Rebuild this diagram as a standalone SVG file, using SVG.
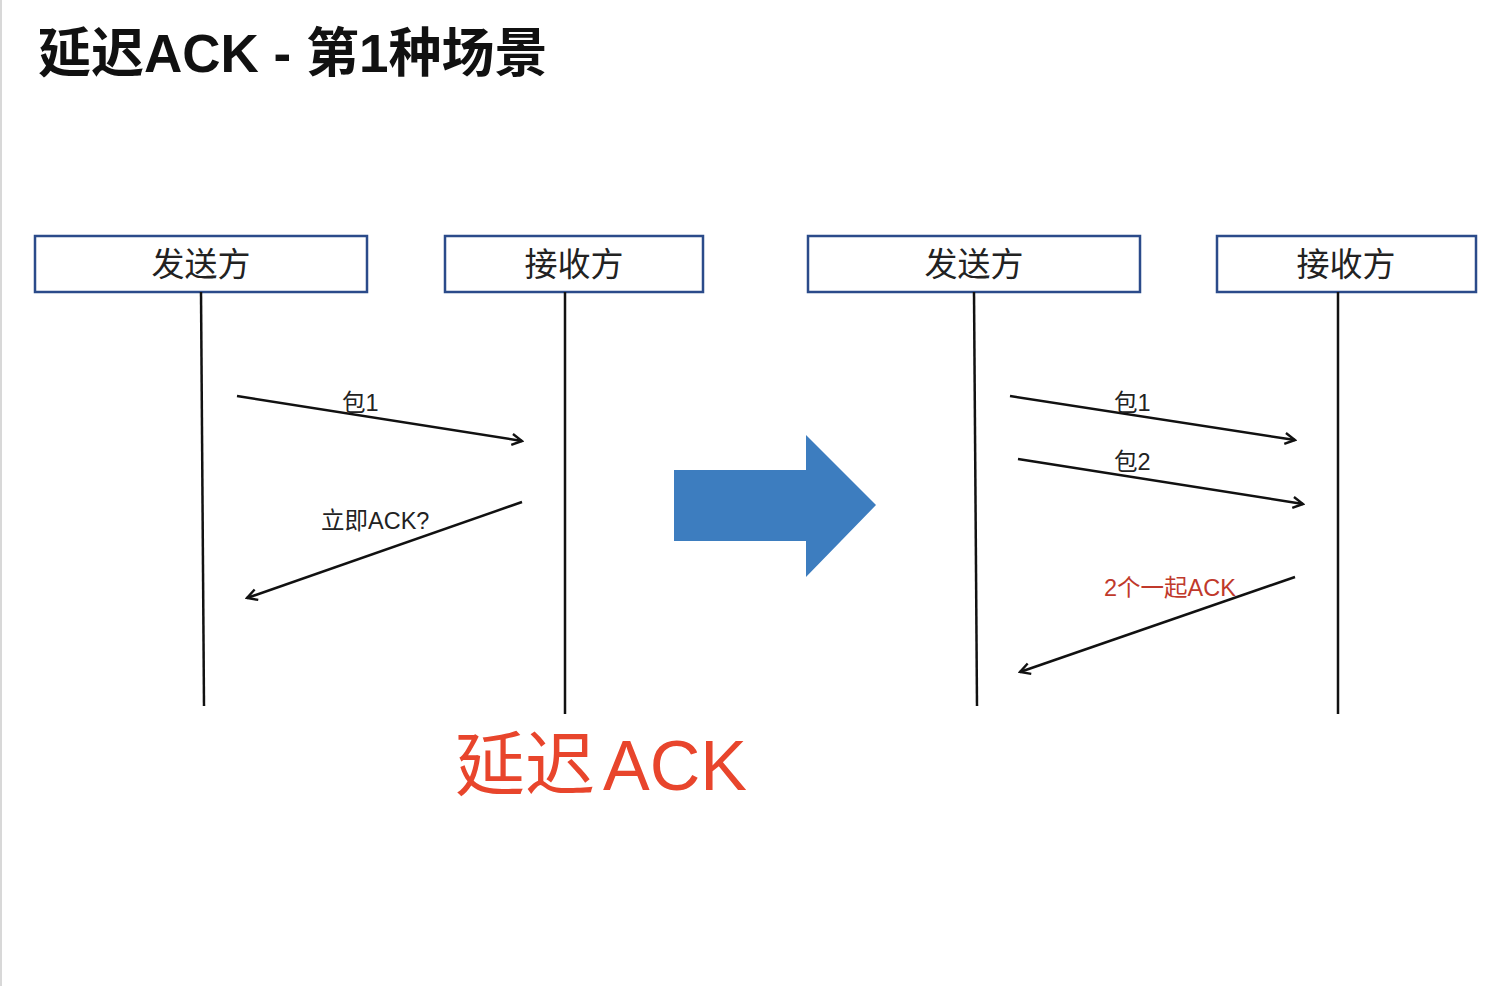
<svg xmlns="http://www.w3.org/2000/svg" width="1510" height="986" viewBox="0 0 1510 986">
<style>
.box{fill:#fff;stroke:#2b4b8a;stroke-width:2.5}
.boxt{font-family:"Noto Sans CJK SC","Liberation Sans",sans-serif;font-size:33px;fill:#222;text-anchor:middle}
.life{stroke:#111;stroke-width:2.5;fill:none}
.msg{stroke:#111;stroke-width:2.5;fill:none;marker-end:url(#arr)}
.lbl{font-family:"Liberation Sans","Noto Sans CJK SC",sans-serif;font-size:23.5px;fill:#222}
.red{fill:#c0392b}
</style>
<defs>
<marker id="arr" markerUnits="userSpaceOnUse" viewBox="0 0 14 14" refX="12" refY="7" markerWidth="14" markerHeight="14" orient="auto">
<path d="M2,1.5 L12,7 L2,12.5" fill="none" stroke="#111" stroke-width="2.4"/>
</marker>
</defs>
<rect width="1510" height="986" fill="#fff"/>
<line x1="1" y1="0" x2="1" y2="986" stroke="#d8d8d8" stroke-width="2"/>
<text x="38" y="72" font-family="'Liberation Sans','Noto Sans CJK SC',sans-serif" font-weight="bold" font-size="53" fill="#111">延迟ACK - 第1种场景</text>

<g id="sender1"><rect class="box" x="35" y="236" width="332" height="56"/><text class="boxt" x="201" y="276">发送方</text></g>
<g id="receiver1"><rect class="box" x="445" y="236" width="258" height="56"/><text class="boxt" x="574" y="276">接收方</text></g>
<g id="sender2"><rect class="box" x="808" y="236" width="332" height="56"/><text class="boxt" x="974" y="276">发送方</text></g>
<g id="receiver2"><rect class="box" x="1217" y="236" width="259" height="56"/><text class="boxt" x="1346" y="276">接收方</text></g>

<g id="connectors">
<line class="life" x1="201" y1="292" x2="204" y2="706"/>
<line class="life" x1="565" y1="292" x2="565" y2="714"/>
<line class="life" x1="974" y1="292" x2="977" y2="706"/>
<line class="life" x1="1338" y1="292" x2="1338" y2="714"/>
<line class="msg" x1="237" y1="396" x2="522" y2="441"/>
<line class="msg" x1="522" y1="502" x2="247" y2="598"/>
<line class="msg" x1="1010" y1="396" x2="1295" y2="440"/>
<line class="msg" x1="1018" y1="459" x2="1303" y2="504"/>
<line class="msg" x1="1295" y1="577" x2="1020" y2="672"/>
</g>

<g id="labels">
<text class="lbl" x="342" y="411">包1</text>
<text class="lbl" x="321" y="529">立即ACK?</text>
<text class="lbl" x="1114" y="411">包1</text>
<text class="lbl" x="1114" y="470">包2</text>
<text class="lbl red" x="1104" y="596">2个一起ACK</text>
</g>

<g id="bigArrow">
<polygon points="674,470 806,470 806,435 876,505 806,577 806,541 674,541" fill="#3d7dbf"/>
</g>

<text x="455" y="790" font-family="'Liberation Sans','Noto Sans CJK SC',sans-serif" font-size="70" fill="#e8452c">延迟<tspan dx="8">ACK</tspan></text>
</svg>
